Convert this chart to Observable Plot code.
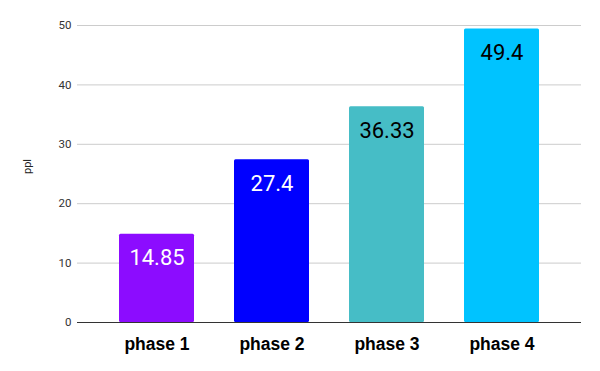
<!DOCTYPE html>
<html>
<head>
<meta charset="utf-8">
<script src="https://cdn.jsdelivr.net/npm/d3@7"></script>
<script src="https://cdn.jsdelivr.net/npm/@observablehq/plot@0.6"></script>
<style>
  html, body { margin: 0; padding: 0; background: #fff; }
  #chart svg { display: block; }
</style>
</head>
<body>
<div id="chart"></div>
<script>
const phases = ["phase 1", "phase 2", "phase 3", "phase 4"];
const values = [14.85, 27.4, 36.33, 49.4];
const barColors = ["#8c0cff", "#0000ff", "#46bdc6", "#00c3ff"];
const labelColors = ["#ffffff", "#ffffff", "#000000", "#000000"];
const yTicks = [0, 10, 20, 30, 40, 50];
const yLabel = "ppl";

const data = phases.map((p, i) => ({phase: p, value: values[i], color: barColors[i], labelColor: labelColors[i]}));

const chart = Plot.plot({
  width: 600,
  height: 371,
  marginLeft: 77,
  marginRight: 19,
  marginTop: 25,
  marginBottom: 49,
  style: {fontFamily: "Roboto, sans-serif", background: "#fff"},
  x: {domain: phases, padding: 0.35, label: null},
  y: {domain: [0, 50], ticks: yTicks, label: null},
  marks: [
    Plot.gridY(yTicks, {stroke: "#cccccc", strokeOpacity: 1}),
    Plot.barY(data, {x: "phase", y: "value", fill: "color", rx: 1.5}),
    Plot.ruleY([0], {stroke: "#333333", strokeWidth: 1}),
    Plot.axisY(yTicks, {tickSize: 0, tickPadding: 6, fontSize: 11.5, fill: "#333", label: null}),
    Plot.axisX({tickSize: 0, tickPadding: 15, fontSize: 17.5, fontWeight: "bold", fill: "#000", fontFamily: "Liberation Sans, Arial, sans-serif", label: null}),
    Plot.text(data, {x: "phase", y: "value", text: d => String(d.value), fill: "labelColor", dy: 24, fontSize: 22, fontFamily: "Roboto, sans-serif"}),
    Plot.text([yLabel], {frameAnchor: "left", rotate: -90, dx: -50, fontSize: 11, fill: "#222", text: d => d})
  ]
});
document.getElementById("chart").appendChild(chart);
</script>
</body>
</html>
